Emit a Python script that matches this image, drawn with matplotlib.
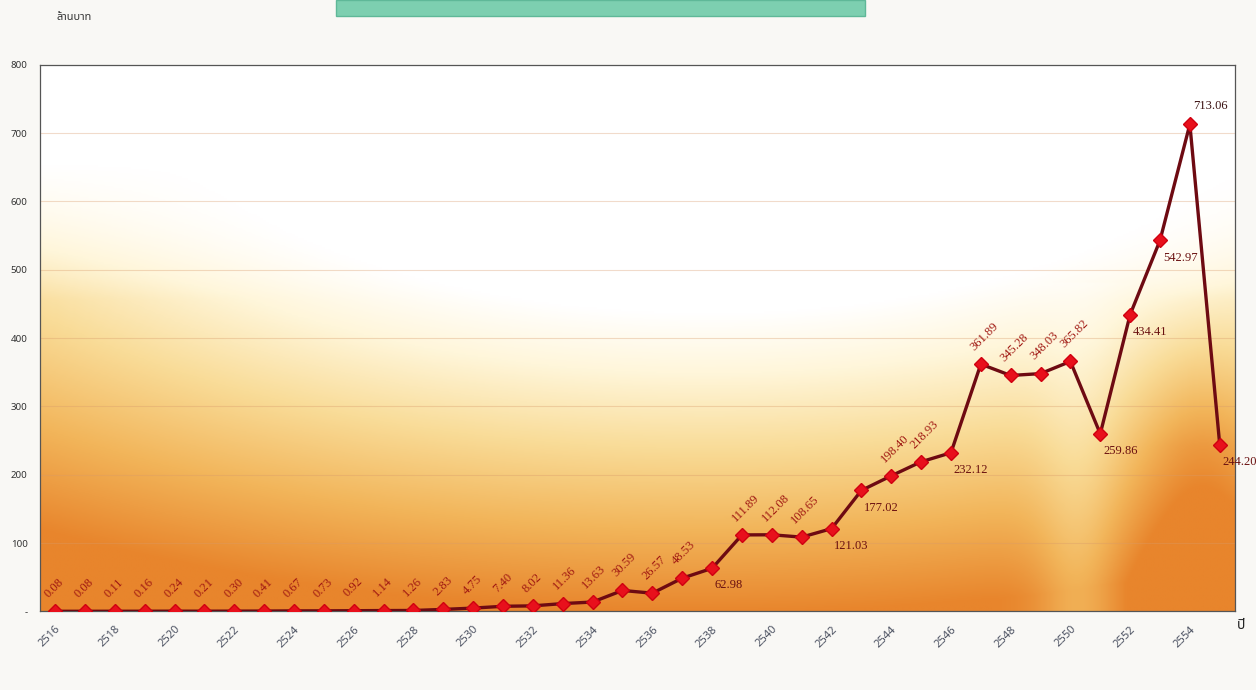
import numpy as np
import matplotlib
matplotlib.use("Agg")
import matplotlib.pyplot as plt
from matplotlib.colors import LinearSegmentedColormap
from matplotlib.patches import Rectangle

years = list(range(2516, 2556))
values = [0.08, 0.08, 0.11, 0.16, 0.24, 0.21, 0.30, 0.41, 0.67, 0.73,
          0.92, 1.14, 1.26, 2.83, 4.75, 7.40, 8.02, 11.36, 13.63, 30.59,
          26.57, 48.53, 62.98, 111.89, 112.08, 108.65, 121.03, 177.02, 198.40, 218.93,
          232.12, 361.89, 345.28, 348.03, 365.82, 259.86, 434.41, 542.97, 713.06, 244.20]
value_labels = [f"{v:.2f}" for v in values]
yticks = [0, 100, 200, 300, 400, 500, 600, 700, 800]
ytick_labels = ["-"] + [str(t) for t in yticks[1:]]
xtick_years = years[::2]
y_title = "ล้านบาท"
x_title = "ปี"

below_idx = {22, 26, 27, 30, 35, 36, 37, 39}
above_idx = {38}

plt.rcParams['font.family'] = ['Noto Sans', 'DejaVu Sans']

fig = plt.figure(figsize=(12.56, 6.90), dpi=100)
fig.patch.set_facecolor('#f9f8f5')
ax = fig.add_axes([0.032, 0.114, 0.951, 0.792])

x = np.arange(len(years))
ax.set_xlim(-0.5, len(years) - 0.5)
ax.set_ylim(0, 800)

# background gradient (white glow top-centre, orange toward bottom/left/right)
ny, nx = 300, 400
yy = np.linspace(1, 0, ny)[:, None]   # fraction from bottom, top row = 1
xx = np.linspace(0, 1, nx)[None, :]
d = np.sqrt(((xx - 0.56) / 0.62) ** 2 + ((yy - 0.98) / 0.58) ** 2)
t = np.clip((d - 0.75) / 0.95, 0, 1)
t = t * np.clip((0.82 - yy) / 0.25, 0, 1)
glare = 0.25 * np.exp(-((xx - 0.87) / 0.035) ** 2) * (yy < 0.6)
right = 0.25 * np.exp(-((xx - 0.97) / 0.05) ** 2) * np.clip((0.6 - yy) / 0.3, 0, 1)
t = np.clip(t * (1 - glare) + right, 0, 1)
cmap = LinearSegmentedColormap.from_list(
    'bg', [(0, '#ffffff'), (0.2, '#fff6da'), (0.45, '#f9dc98'), (0.72, '#f2b55a'), (1, '#e8852c')])
ax.imshow(t, cmap=cmap, aspect='auto', extent=(-0.5, len(years) - 0.5, 0, 800),
          origin='upper', zorder=0, vmin=0, vmax=1, interpolation='bilinear')

for yv in yticks[1:-1]:
    ax.axhline(yv, color='#d89a6a', lw=0.8, alpha=0.35, zorder=1)

ax.plot(x, values, color='#6e0a12', lw=2.4, zorder=3)
ax.plot(x, values, ls='none', marker='D', ms=7, color='#e8101c', mec='#d00010', zorder=4)

for i, (v, lab) in enumerate(zip(values, value_labels)):
    if i in below_idx:
        ax.annotate(lab, (x[i], v), xytext=(2, -8), textcoords='offset points',
                    ha='left', va='top', fontsize=9, color='#6a1010', family='Liberation Serif')
    elif i in above_idx:
        ax.annotate(lab, (x[i], v), xytext=(2, 9), textcoords='offset points',
                    ha='left', va='bottom', fontsize=9, color='#3a1010', family='Liberation Serif')
    else:
        ax.annotate(lab, (x[i], v), xytext=(-3, 8), textcoords='offset points',
                    ha='left', va='bottom', rotation=45, rotation_mode='anchor',
                    fontsize=9, color='#a01812', family='Liberation Serif')

ax.set_yticks(yticks)
ax.set_yticklabels(ytick_labels, fontsize=7, color='#333333')
xt = [years.index(y) for y in xtick_years]
ax.set_xticks(xt)
ax.set_xticklabels([str(y) for y in xtick_years], rotation=45, fontsize=8,
                   color='#4a5060', ha='right', rotation_mode='anchor')
ax.tick_params(axis='both', length=0, pad=9)
for s in ax.spines.values():
    s.set_color('#555555')
    s.set_linewidth(0.9)

fig.text(0.059, 0.975, y_title, fontsize=8, color='#333333', ha='center', va='center',
         family=['Noto Sans Thai', 'Noto Sans', 'DejaVu Sans'])
fig.text(0.988, 0.094, x_title, fontsize=10, color='#222222', ha='center', va='center',
         family=['Noto Sans Thai', 'Noto Sans', 'DejaVu Sans'])

fig.patches.append(Rectangle((336 / 1256, 1 - 16 / 690), (865 - 336) / 1256, 16 / 690,
                             transform=fig.transFigure, facecolor='#7dcfb0', edgecolor='#5fb898',
                             lw=1, zorder=0))

fig.savefig('out.png', dpi=100, facecolor=fig.get_facecolor())
